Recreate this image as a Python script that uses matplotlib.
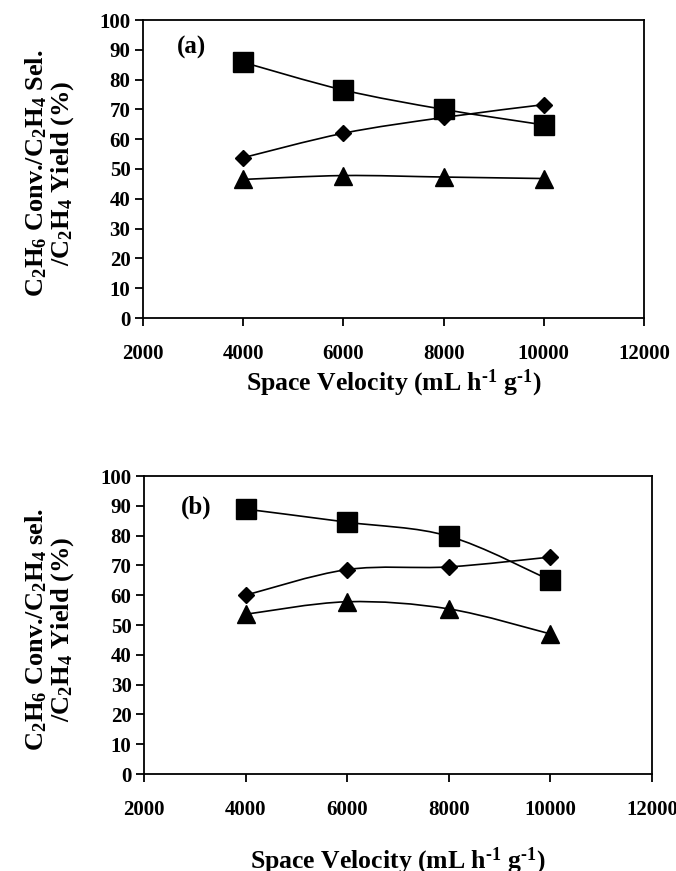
import matplotlib

matplotlib.use("Agg")
import matplotlib.pyplot as plt
import numpy as np
from matplotlib.path import Path
from matplotlib.patches import PathPatch

plt.rcParams["font.family"] = "Liberation Serif"
plt.rcParams["font.weight"] = "bold"
plt.rcParams["axes.labelweight"] = "bold"
plt.rcParams["mathtext.fontset"] = "custom"
plt.rcParams["mathtext.rm"] = "Liberation Serif:bold"
plt.rcParams["mathtext.it"] = "Liberation Serif:bold"
plt.rcParams["mathtext.bf"] = "Liberation Serif:bold"

# space velocity (mL h-1 g-1)
sv = [4000, 6000, 8000, 10000]

# panel (a)
a_square = [85.8, 76.5, 70.0, 64.8]
a_diamond = [53.8, 62.0, 67.3, 71.6]
a_triangle = [46.5, 47.8, 47.3, 46.8]

# panel (b)
b_square = [88.9, 84.5, 79.8, 65.0]
b_diamond = [60.0, 68.6, 69.5, 72.8]
b_triangle = [53.6, 57.8, 55.4, 47.0]

y_ticks = list(range(0, 101, 10))
x_ticks = [2000, 4000, 6000, 8000, 10000, 12000]
ylab = "C$_2$H$_6$ Conv./C$_2$H$_4$ {}.\n/C$_2$H$_4$ Yield (%)"
xlab = "Space Velocity (mL h$^{\\text{-}1}$ g$^{\\text{-}1}$)"


def smooth_line(ax, x, y):
    # Excel-style smoothed line through the points (cubic Bezier segments)
    p = np.column_stack([x, y]).astype(float)
    ext = np.vstack([p[0], p, p[-1]])
    verts, codes = [p[0]], [Path.MOVETO]
    for i in range(len(p) - 1):
        c1 = ext[i + 1] + (ext[i + 2] - ext[i]) / 6
        c2 = ext[i + 2] - (ext[i + 3] - ext[i + 1]) / 6
        verts += [c1, c2, p[i + 1]]
        codes += [Path.CURVE4] * 3
    ax.add_patch(PathPatch(Path(verts, codes), fill=False, lw=1.2, ec="black", zorder=2))


def panel(rect, sq, di, tr, tag, tag_xy, sel, xlab_y):
    ax = fig.add_axes(rect)
    for ys, m, ms in [(sq, "s", 14), (di, "D", 8.5), (tr, "^", 13.5)]:
        smooth_line(ax, sv, ys)
        ax.plot(sv, ys, ls="none", marker=m, ms=ms, color="black", zorder=3)
    ax.set_xlim(2000, 12000)
    ax.set_ylim(0, 100)
    ax.set_xticks(x_ticks)
    ax.set_yticks(y_ticks)
    ax.tick_params(direction="out", length=6, width=1.3, labelsize=15, pad=3)
    ax.tick_params(axis="x", pad=13)
    for s in ax.spines.values():
        s.set_linewidth(1.3)
    ax.text(*tag_xy, tag, fontsize=18, ha="center", va="center")
    ax.set_xlabel(xlab, fontsize=18.5, va="top")
    ax.xaxis.set_label_coords(0.5, xlab_y)
    # y label centred on the axes, two lines
    bb = rect[1] + rect[3] / 2 - 4 / 871
    fig.text(50 / 676, bb, ylab.format(sel), rotation=90, ha="center", va="center",
             fontsize=19, multialignment="center", linespacing=1.0)
    return ax


fig = plt.figure(figsize=(6.76, 8.71), dpi=100)
panel([143 / 676, 1 - 318 / 871, 501 / 676, 298 / 871], a_square, a_diamond, a_triangle,
      "(a)", (2960, 90.8), "Sel", -0.165)
panel([144 / 676, 1 - 774 / 871, 508 / 676, 298 / 871], b_square, b_diamond, b_triangle,
      "(b)", (3020, 89.6), "sel", -0.24)

fig.savefig("out.png", dpi=100)
